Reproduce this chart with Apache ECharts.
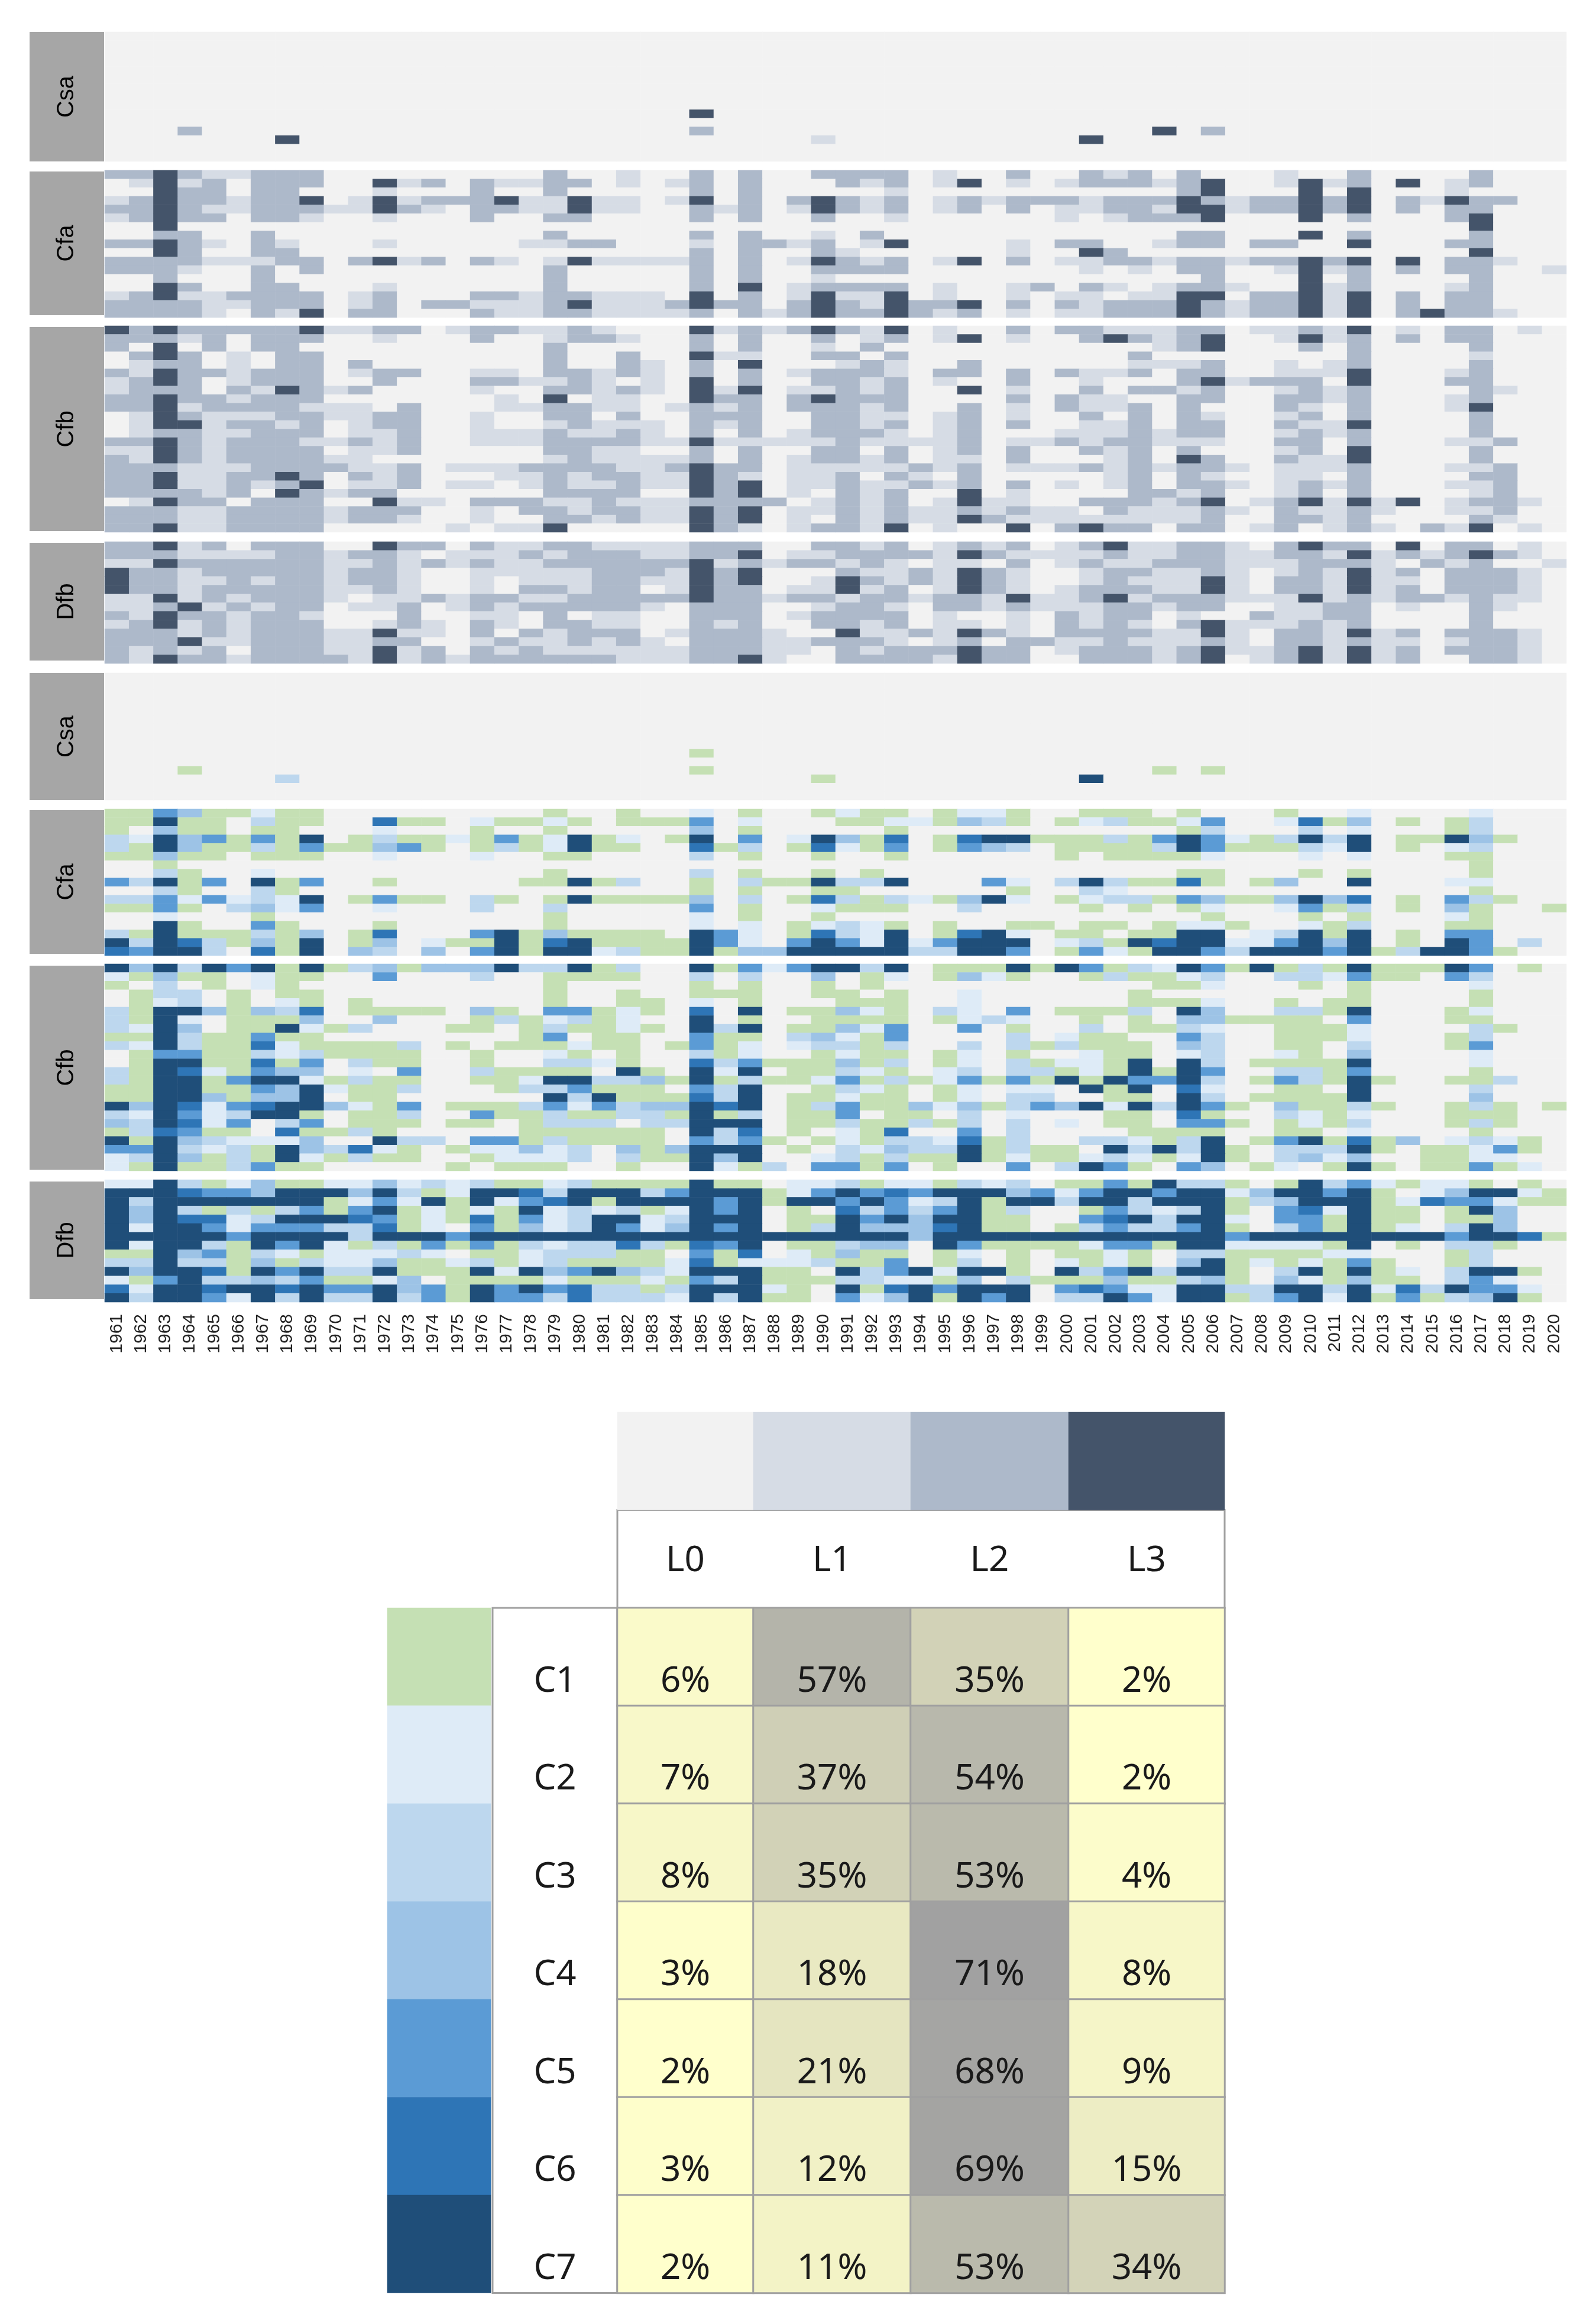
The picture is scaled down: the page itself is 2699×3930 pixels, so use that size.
<!DOCTYPE html>
<html lang="en">
<head>
<meta charset="utf-8">
<title>Heatmap by climate zone</title>
<script src="https://cdn.jsdelivr.net/npm/echarts@6/dist/echarts.min.js"></script>
<style>
  html, body { margin: 0; padding: 0; background: #fff; }
  #main { width: 2699px; height: 3930px; }
</style>
</head>
<body>
<div id="main"></div>
<script>
// each string is one row, 1961..2020, grouped per ten years
var blankRow = '0000000000 0000000000 0000000000 0000000000 0000000000 0000000000';

var levelCsa = [
  blankRow, blankRow, blankRow, blankRow, blankRow, blankRow, blankRow, blankRow, blankRow,
  '0000000000 0000000000 0000300000 0000000000 0000000000 0000000000',
  blankRow,
  '0002000000 0000000000 0000200000 0000000000 0003020000 0000000000',
  '0000000300 0000000000 0000000001 0000000000 3000000000 0000000000',
  blankRow, blankRow
];
var levelCfa = [
  '2232112220 0000000020 0100202002 2220100200 2120200010 0200002000',
  '0131202220 0312021122 0101202000 2120130101 2221230013 1203012000',
  '0032202200 0100020020 0000202000 0010000000 0000230003 0300010000',
  '1232212230 1312223113 1101302023 2120121222 1222321223 2302132200',
  '2232112221 1321022113 1100212013 2120120201 1221331223 2302022000',
  '1232202210 0100020022 0000202002 0010000001 0122230003 0200023000',
  '0030000000 0000000000 0000000000 0000000000 0000000000 0000003000',
  '0022002000 0000000020 0000202001 0200000000 0000220003 0200002000',
  '2232102100 0100000112 2000102212 0130000102 2001220220 0300022000',
  '0032002200 0000000000 0000202002 1000000100 3200000000 0000003000',
  '2222111220 2312021013 1111202013 2120130201 1221221223 2303022100',
  '2221002020 0000000020 0000202002 2220000000 1010220013 1202022001',
  '0020002000 0000000020 0000202001 0000000000 0000020003 0200002000',
  '0032002200 0100000020 0000203012 2220100120 2101221003 1200012000',
  '1231122220 1200022122 1110302013 1130100101 1011330223 1302022000',
  '2222112220 1202211123 1112322023 2132230202 1222321223 1302022000',
  '2222102130 2200021122 1111202123 2232120101 1222321223 1302322100'
];
var levelCfb = [
  '3232222231 1220122112 1000312123 2130100202 2111220112 1301022010',
  '2221202220 0100020012 2100202002 0120130100 2321230013 1202022000',
  '2030202200 0000000020 0000202001 0200000000 0001230002 0200002000',
  '0232010220 0000000020 0200311002 2020000000 0020000000 0200001000',
  '0122010220 2000000020 0210203000 1210020000 0011120010 1200002000',
  '2132212220 1220011022 1210202012 2210220202 1120220011 1300012000',
  '1232012220 0200022112 1010302002 2120100200 1000231222 0300022000',
  '1222021321 2000010022 1210313011 2120030100 2022120012 1200002100',
  '2232212220 0000001030 1100322023 2220000202 1100220022 1200012000',
  '2231222211 1020001122 1101212022 2120020102 1120200021 0200013000',
  '0132111221 1220010022 0200222002 2110120100 2020210012 0200002000',
  '0133122120 1220010012 1110212002 2120120200 1120220021 1300002000',
  '0122112220 1120011121 1210202012 2210120001 1121220012 1200002000',
  '2232122211 2120011122 2211311111 2111120112 1221110022 0200011200',
  '1132122220 1120000022 1100202002 2020120200 2120200012 0300002000',
  '2132122221 1000000012 1111202012 2120110200 0120320021 1300002000',
  '2221112222 1120111222 2112322011 1112120111 2121221011 1200011200',
  '2231122320 2120001121 2211321011 2021020000 0120210011 0200002200',
  '2231121230 1120110121 1211323011 2112120201 0120221012 1200011200',
  '2222120321 2200000022 2200323010 2120030100 0022120012 0200001200',
  '0132202220 0311022211 2111222201 2120131100 2221230123 1313012210',
  '2221122221 2220010221 2211323011 2121121211 0211121021 1210011200',
  '2221122221 2210010022 1211323010 2121132111 1111120022 1200002100',
  '2231122220 0000101130 0000321012 2130100302 3220220120 1210213010'
];
var levelDfb = [
  '2231202220 0322021122 1111222002 2120121201 2311221023 2203022010',
  '2221111221 2210111212 2211223011 2222132111 1211221122 1312123210',
  '1132222221 1212121122 2222312122 1210110201 2112221112 2210212001',
  '3221222221 2210011111 2221323000 2112132100 1221121012 1312022210',
  '3221121221 2210010111 2211323001 3212132100 1211131022 1311022210',
  '3221222221 1210010221 2201322011 3120132101 2221131022 1312022210',
  '1131212221 0112122112 2222322122 1221221311 2312221113 1212212110',
  '1123121220 1120121222 2210222001 2210221211 1221220011 2201002100',
  '2132212210 0020011020 1100222012 2220100102 1220100211 2200002000',
  '1231212220 0121021022 1100212002 2120110102 1210231112 1200002000',
  '2221212221 1311020212 2201222100 3112132102 2221131022 1312022210',
  '2223112221 1220012112 1210222112 2210120221 1211121022 1211012210',
  '2121202221 1312021211 1111222110 2122232201 2221231123 1312022210',
  '2132212222 1312122222 2111223100 2222132200 2221230123 1312002210'
];

var classCsa = [
  blankRow, blankRow, blankRow, blankRow, blankRow, blankRow, blankRow, blankRow, blankRow,
  '0000000000 0000000000 0000100000 0000000000 0000000000 0000000000',
  blankRow,
  '0001000000 0000000000 0000100000 0000000000 0001010000 0000000000',
  '0000000300 0000000000 0000000001 0000000000 7000000000 0000000000',
  blankRow, blankRow
];
var classCfa = [
  '1154112110 0000000010 0100201001 2110122100 1110100010 0200002000',
  '1171103110 0611021121 0111502000 1122143101 2311250026 1401013000',
  '1041101100 0200010010 0000401000 0010000000 0000130003 0200013000',
  '3274515170 1311215127 1201705027 4160167711 1315752137 3701174100',
  '3174113151 1451013127 1100613016 2150154301 1113751113 2701023000',
  '1141101110 0200020011 0000301001 0010000001 0111120002 0200011000',
  '0010000000 0000000000 0000000000 0000000000 0000000000 0000001000',
  '0031002000 0000000010 0000301001 0100000000 0000110001 0100001000',
  '5371507150 0100000117 1300103117 3370005203 7311610140 0700022000',
  '0031003100 0000000000 0000101001 1000000100 3200000000 0000001000',
  '3352523270 1511031017 1111403016 3132147201 2331541147 4601053100',
  '1151034250 0200030030 0000501002 1110030000 1010120025 1301041001',
  '0020001000 0000000010 0000201001 0000000000 0000010001 0100021000',
  '0071005100 0100000010 0000202012 3210100110 1101221002 1300011000',
  '3171113140 1600057141 1110752016 3270167201 1011770237 1701055000',
  '7376314170 1402117167 1111752057 5272577702 3176772257 4701075030',
  '6577306170 4304057177 2311714477 7773377501 5217753777 5713775100'
];
var classCfb = [
  '7473757171 3414447337 1300715257 7370111717 5132751713 1711175010',
  '2141102110 0500030011 1100303004 0120142100 1311230033 2511053000',
  '1030102100 0000000010 0000101001 0100000000 0001120001 0100002000',
  '0133010110 0000000010 0100111001 1010020000 0010000000 0100001000',
  '0123010210 1000000010 0110201000 1110020000 0011120010 1100001000',
  '3177414360 1111041055 1210607011 4210320501 1130740033 1700012000',
  '3172011140 0400013123 1200701001 1110123200 1010441111 0500011000',
  '3274011721 3000110131 1210737011 4250050100 3011320011 1200003100',
  '1173115110 0000000150 1100511034 2150000302 1100530011 1200013000',
  '3273116211 1130101112 1101512023 3130030313 1110430011 0300015000',
  '0155113231 1110010021 0100312001 2110120100 2110230021 0400002000',
  '0177116150 3110010033 2100635111 4130120312 2170730111 1700002000',
  '3176215440 2050031111 0710727011 3210230331 2171750033 1500001000',
  '3177157721 3110011277 3341713112 5131251517 1755730153 1710011300',
  '1177115472 1130001335 1110537001 3210120220 7170620011 0700003000',
  '1177414470 1100000073 7111637011 2110120330 0110730111 1700004000',
  '7476256774 2150111352 5344767013 5114241354 7273751041 1310013101',
  '3275237710 1130051131 1331713011 5011030200 0110610032 1200011100',
  '4376250350 1110110133 3033777011 3113130302 0110551012 1300013100',
  '1365110611 3100000111 1110736010 2160050300 0011110011 0200001000',
  '7174322240 0733055131 1110535101 2133261300 3321370157 1614023210',
  '5573231743 6210122423 0414777010 3243371311 0737371033 3710112510',
  '2374131721 3110012223 0311747002 3131171211 2321271034 2400112200',
  '2171135110 0000101110 0100721305 5150100503 7510540120 1710115120'
];
var classDfb = [
  '2273124112 2423231123 1111711022 3122132301 1517331017 3521221010',
  '7776554777 4731277637 7735777125 7565777452 5775772477 5710247721',
  '7377777771 2527172567 1777757177 5752371773 7737771347 7712655211',
  '7473131351 5712121723 2312757010 6353571300 1532371056 2711017400',
  '7476623777 6512161523 7723777011 7574771100 5673772055 1711011400',
  '7277525553 3612051423 7524757013 7444671101 3533571035 1712037400',
  '7777757777 3777577777 7777777777 7774777777 7777775777 7777757761',
  '7277317572 1315151323 3631657011 3440751111 2551772222 1701033100',
  '1174513212 2232011233 3110516021 4110120101 1210331111 2200013000',
  '3373314132 2411231231 1112612223 1150130102 1210471212 1510013000',
  '7477617573 3711172745 7432777110 7357277107 3573771037 1712037710',
  '2157334351 1240111121 1121537111 3322140311 1411341042 1411035200',
  '6277677675 5745175756 3313777210 7167577705 6522773377 3726375520',
  '7377527373 3735175536 3332737110 5247175703 3752771357 2715134710'
];

var years = [];
for (var yr = 1961; yr <= 2020; yr++) years.push(String(yr));

var levelNames = ['L0', 'L1', 'L2', 'L3'];
var classNames = ['C1', 'C2', 'C3', 'C4', 'C5', 'C6', 'C7'];
var shareL0 = [6, 7, 8, 3, 2, 3, 2];
var shareL1 = [57, 37, 35, 18, 21, 12, 11];
var shareL2 = [35, 54, 53, 71, 68, 69, 53];
var shareL3 = [2, 2, 4, 8, 9, 15, 34];

var levelColors = ['#F2F2F2', '#D6DCE5', '#ADB9CA', '#44546A'];
var classColors = ['#F2F2F2', '#C5E0B4', '#DEEBF7', '#BDD7EE', '#9DC3E6', '#5B9BD5', '#2E75B6', '#1F4E79'];

var heatLeft = 177, heatWidth = 2472, boxLeft = 50, boxWidth = 126;
var panels = [
  { name: 'Csa', rows: levelCsa, colors: levelColors, top: 54, height: 219, boxTop: 54, boxHeight: 219 },
  { name: 'Cfa', rows: levelCfa, colors: levelColors, top: 288, height: 249, boxTop: 290, boxHeight: 243 },
  { name: 'Cfb', rows: levelCfb, colors: levelColors, top: 551, height: 349, boxTop: 553, boxHeight: 345 },
  { name: 'Dfb', rows: levelDfb, colors: levelColors, top: 916, height: 206, boxTop: 918, boxHeight: 199 },
  { name: 'Csa', rows: classCsa, colors: classColors, top: 1138, height: 215, boxTop: 1138, boxHeight: 215 },
  { name: 'Cfa', rows: classCfa, colors: classColors, top: 1368, height: 248, boxTop: 1370, boxHeight: 243 },
  { name: 'Cfb', rows: classCfb, colors: classColors, top: 1630, height: 350, boxTop: 1633, boxHeight: 345 },
  { name: 'Dfb', rows: classDfb, colors: classColors, top: 1995, height: 207, boxTop: 1998, boxHeight: 199 }
];

var grids = [], xAxes = [], yAxes = [], series = [], graphics = [];

function addGrid(left, top, width, height, xData, yData) {
  grids.push({ left: left, top: top, width: width, height: height, containLabel: false });
  xAxes.push({ type: 'category', gridIndex: grids.length - 1, data: xData, show: false });
  yAxes.push({ type: 'category', gridIndex: grids.length - 1, data: yData, inverse: true, show: false });
  return grids.length - 1;
}

function addHeat(idx, data) {
  series.push({
    type: 'heatmap', xAxisIndex: idx, yAxisIndex: idx, data: data,
    progressive: 0, silent: true, emphasis: { disabled: true }
  });
}

panels.forEach(function (p, n) {
  var rowIds = p.rows.map(function (r, i) { return String(i); });
  var idx = addGrid(heatLeft, p.top, heatWidth, p.height, years, rowIds);
  var cells = [];
  p.rows.forEach(function (row, y) {
    row.replace(/ /g, '').split('').forEach(function (ch, x) {
      var v = +ch;
      cells.push({ value: [x, y, v], itemStyle: { color: p.colors[v] } });
    });
  });
  addHeat(idx, cells);
  if (n === panels.length - 1) {
    xAxes[idx].show = true;
    xAxes[idx].axisLine = { show: false };
    xAxes[idx].axisTick = { show: false };
    xAxes[idx].axisLabel = {
      interval: 0, rotate: 90, margin: 20, fontSize: 30,
      fontFamily: 'Liberation Sans', color: '#222'
    };
  }
  graphics.push({
    type: 'rect', shape: { x: boxLeft, y: p.boxTop, width: boxWidth, height: p.boxHeight },
    style: { fill: '#A6A6A6' }
  });
  graphics.push({
    type: 'text', x: boxLeft + boxWidth / 2, y: p.boxTop + p.boxHeight / 2, rotation: Math.PI / 2,
    style: {
      text: p.name, fontSize: 40, fontFamily: 'Liberation Sans', fill: '#000',
      align: 'center', verticalAlign: 'middle'
    }
  });
});

// share table under the heatmaps
var tableFont = 'Noto Sans', tableLine = '#A0A0A0', tableTop = 2388, rowHeight = 165.5;
var columnEdges = [1044, 1274, 1540, 1807, 2071];
var shares = [shareL0, shareL1, shareL2, shareL3];

function shade(v) {
  return echarts.color.lerp((v - 2) / 69, ['#FFFFCC', '#A1A1A1']);
}

function cellLabel(text, offsetY) {
  return {
    show: true, formatter: text, fontFamily: tableFont, fontSize: 60, color: '#1a1a1a',
    offset: [0, offsetY]
  };
}

// boxes round the header row and the C column, without inner lines
function outlineGrid(idx) {
  grids[idx].show = true;
  grids[idx].backgroundColor = '#fff';
  grids[idx].borderColor = tableLine;
  grids[idx].borderWidth = 3;
}
outlineGrid(addGrid(columnEdges[0], tableTop + rowHeight, columnEdges[4] - columnEdges[0], rowHeight, ['head'], ['head']));

var tableRows = ['swatch', 'head'].concat(classNames);
levelNames.forEach(function (name, c) {
  var idx = addGrid(columnEdges[c], tableTop, columnEdges[c + 1] - columnEdges[c], rowHeight * 9, [name], tableRows);
  var cells = [
    { value: [0, 0, 0], itemStyle: { color: levelColors[c] } },
    { value: [0, 1, 0], itemStyle: { color: 'transparent' }, label: cellLabel(name, 4) }
  ];
  shares[c].forEach(function (v, r) {
    cells.push({
      value: [0, r + 2, v],
      itemStyle: { color: shade(v), borderColor: tableLine, borderWidth: 3 },
      label: cellLabel(v + '%', 42)
    });
  });
  addHeat(idx, cells);
});

var nameIdx = addGrid(833, tableTop + rowHeight * 2, 211, rowHeight * 7, ['name'], classNames);
outlineGrid(nameIdx);
addHeat(nameIdx, classNames.map(function (name, r) {
  return {
    value: [0, r, 0],
    itemStyle: { color: 'transparent' },
    label: cellLabel(name, 42)
  };
}));

var swatchIdx = addGrid(655, tableTop + rowHeight * 2, 175, rowHeight * 7, ['swatch'], classNames);
addHeat(swatchIdx, classNames.map(function (name, r) {
  return { value: [0, r, r + 1], itemStyle: { color: classColors[r + 1] } };
}));

var myChart = echarts.init(document.getElementById('main'), null, { renderer: 'canvas' });
myChart.setOption({
  animation: false,
  backgroundColor: '#fff',
  grid: grids,
  xAxis: xAxes,
  yAxis: yAxes,
  series: series,
  graphic: graphics
});
</script>
</body>
</html>
